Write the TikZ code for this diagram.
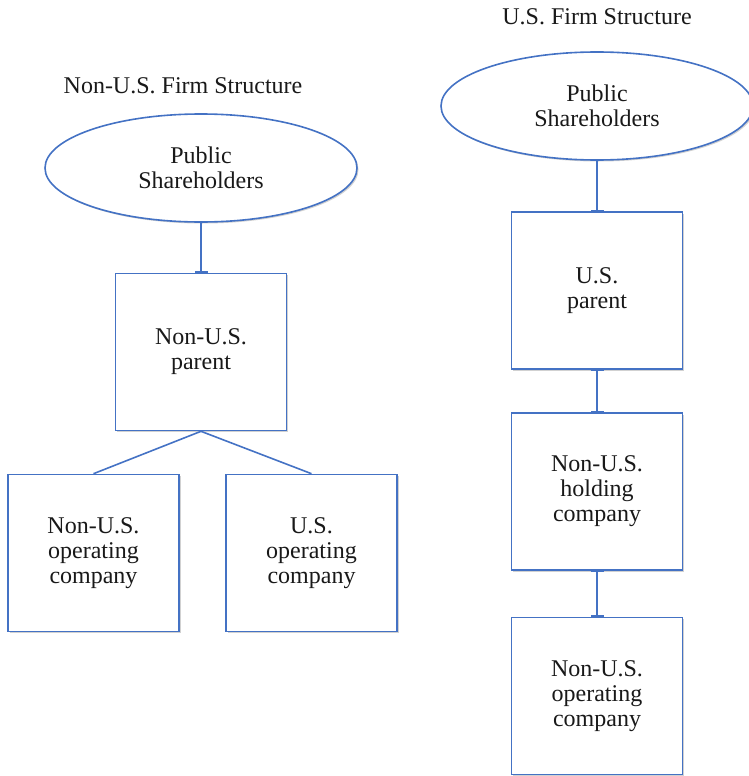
\documentclass[tikz,border=0pt]{standalone}
\usepackage{fontspec}
\setmainfont{Liberation Serif}
\usetikzlibrary{arrows.meta,shapes.geometric,shadows}

\begin{document}
\begin{tikzpicture}[x=1pt,y=-1pt,
	every node/.style={font=\rmfamily\fontsize{24}{25}\selectfont,text=black!90},
	firm/.style={draw=boxblue,line width=1.6pt,fill=white,align=center,inner sep=0pt,
		drop shadow={shadow xshift=1.5pt,shadow yshift=-1.5pt,opacity=0.18,fill=black}},
	company/.style={firm,rectangle,minimum width=171pt,minimum height=157pt},
	holders/.style={firm,ellipse,minimum width=312pt,minimum height=108pt},
	link/.style={draw=boxblue,line width=1.6pt},
	tee/.style={-{Bar[width=13pt,line width=1.4pt]}},
	teetee/.style={{Bar[width=13pt,line width=1.4pt]}-{Bar[width=13pt,line width=1.4pt]}}]

\definecolor{boxblue}{RGB}{68,114,196}

\useasboundingbox (0,0) rectangle (749,776);

% non-U.S. firm
\node[anchor=base] (titleL) at (183,93) {Non-U.S. Firm Structure};
\node[holders] (pubL) at (201,168) {Public\\Shareholders};
\node[company] (parentL) at (201,352) {Non-U.S.\\parent};
\node[company] (opL) at (93.5,553) {Non-U.S.\\operating\\company};
\node[company] (usopL) at (311.5,553) {U.S.\\operating\\company};

\draw[link,tee] (pubL.south) -- (parentL.north);
\draw[link] (parentL.south) -- (opL.north);
\draw[link] (parentL.south) -- (usopL.north);

% U.S. firm
\node[anchor=base] (titleR) at (597,25) {U.S. Firm Structure};
\node[holders] (pubR) at (597,106) {Public\\Shareholders};
\node[company] (parentR) at (597,290.5) {U.S.\\parent};
\node[company] (holdR) at (597,491.5) {Non-U.S.\\holding\\company};
\node[company] (opR) at (597,696) {Non-U.S.\\operating\\company};

\draw[link,tee] (pubR.south) -- (parentR.north);
\draw[link,teetee] (parentR.south) -- (holdR.north);
\draw[link,teetee] (holdR.south) -- (opR.north);

\end{tikzpicture}
\end{document}
